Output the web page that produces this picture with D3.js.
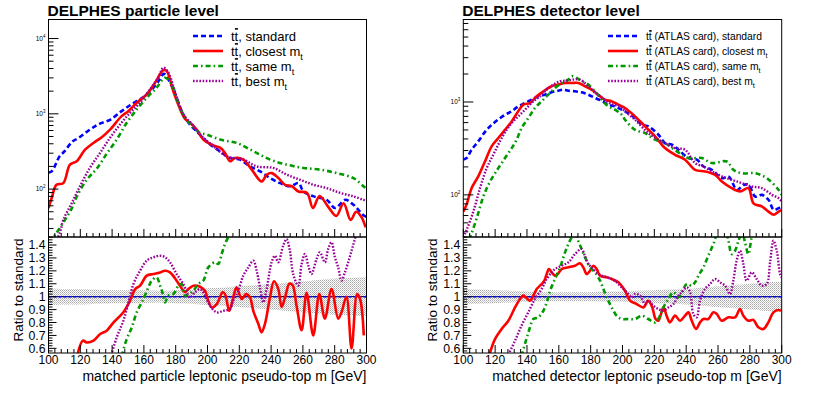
<!DOCTYPE html>
<html><head><meta charset="utf-8">
<script src="https://cdn.jsdelivr.net/npm/d3@7"></script>
<style>body{margin:0;background:#fff}svg{display:block;font-family:"Liberation Sans",Arial,Helvetica,sans-serif}</style>
</head><body><svg id="c" width="830" height="397"></svg>
<script>
// ---------------- DATA ----------------
const xTicks = [100,120,140,160,180,200,220,240,260,280,300];
const ratioTicks = [0.6,0.7,0.8,0.9,1,1.1,1.2,1.3,1.4];
const seriesKeys = ["standard","closest","same","best"];
const titles = ["DELPHES particle level","DELPHES detector level"];
const xTitles = ["matched particle leptonic pseudo-top m [GeV]","matched detector leptonic pseudo-top m [GeV]"];
const legendPrefix = ["", " (ATLAS card)"];
const legendSuffix = [", standard", ", closest m", ", same m", ", best m"];
const legendSub = ["", "t", "t", "t"];

// particle level, top panel (x in GeV, entries)
const pStd = [[100,166],[102,172],[107,273],[110,316],[115,427],[119,479],[126,617],[132,736],[139,840],[146,1084],[152,1330],[159,1633],[165,2109],[170,2871],[172.5,3400],[174,3200],[177.5,2344],[180.6,1633],[184.8,977],[189,719],[195.3,530],[200.5,410],[207.9,318],[214.2,259],[220.5,246],[226.8,200],[233.1,172],[239.4,140],[245.7,120],[252,109],[257.2,120],[260.4,93],[266.7,80],[275,72],[280.3,56],[286.6,72],[291.8,62],[298.1,45],[300,43]];
const pClosest = [[100,56],[102,76],[105,114],[109.3,120],[113.5,211],[117.7,234],[123,334],[128.2,410],[133.5,489],[138.7,617],[146,931],[150.2,1084],[155.5,1403],[161.8,1811],[167,2588],[172.2,3784],[174.3,3707],[178.5,1995],[183.8,1030],[186,851],[189,759],[193.2,618],[197.4,455],[203.7,380],[208,355],[211,302],[214.2,234],[217.3,259],[222.6,246],[227.8,181],[234.1,126],[237.2,155],[240.4,163],[244.6,140],[248.8,114],[253,109],[257.2,93],[262.6,89],[266.3,56],[270.5,81],[275.7,59],[281,44],[285.6,65],[290,39],[293.5,50],[296.7,43],[299.5,31]];
const pSame = [[100,20],[103,23],[109.3,36],[114.7,56],[117.7,79],[124,133],[130.3,186],[136.6,295],[142.9,455],[149.2,759],[155.5,1143],[161.8,1633],[168,2223],[173.3,3020],[177.5,2460],[180.6,1585],[184.8,977],[189,741],[195.3,558],[199.5,530],[207.9,455],[218.4,410],[228.9,318],[239.4,246],[249.9,211],[260.4,191],[270.9,181],[281.4,163],[291.8,140],[298.1,109],[300,100]];
const pBest = [[100,14],[105,21],[107.5,28],[109.3,39],[114.6,65],[119.8,109],[126,191],[132.4,302],[138.7,479],[145,721],[151.3,1030],[157.5,1403],[163.8,2109],[169.1,3020],[172.2,4102],[175.4,3524],[178.5,2339],[181,1585],[185,955],[190,741],[195.3,530],[203.7,371],[212.1,273],[222.6,246],[231,200],[241.4,191],[249.9,155],[258.3,133],[266.7,114],[275,103],[283.4,89],[291.8,80],[298.1,72],[300,71]];

// particle level, ratio panel
const pClosestR = [[118,0.54],[121.6,0.66],[124,0.646],[128.3,0.66],[132.5,0.711],[136.6,0.737],[140.8,0.80],[147.1,0.879],[151.3,0.969],[154.5,1.059],[157.6,1.085],[161.8,1.163],[166,1.175],[170.2,1.188],[173.3,1.201],[176.4,1.188],[180.6,1.124],[184.8,1.046],[185.9,1.034],[188,1.059],[191.1,1.085],[195.3,1.077],[198.4,1.046],[200.5,0.969],[202.6,0.917],[205.8,0.943],[209.5,1.034],[211,1.02],[213.7,0.89],[216.2,0.995],[218.3,1.072],[221.5,0.982],[224.2,1.02],[226.7,0.995],[228.8,0.89],[232,0.788],[234,0.724],[236.1,0.788],[239.3,0.995],[241.8,1.12],[244.5,1.06],[246.6,0.92],[248.7,0.99],[251.5,1.1],[253.5,1.09],[256,0.93],[259.2,0.74],[262.3,1.03],[266.5,0.70],[270.3,1.02],[273.8,0.83],[278,1.06],[282.2,0.83],[284.3,0.88],[287.4,1.0],[290.6,0.6],[294.1,1.02],[296,0.98],[298.3,0.7]];
const pSameR = [[146,0.54],[149.2,0.672],[152.4,0.763],[155.5,0.879],[159.7,0.982],[162.8,1.072],[164.9,1.124],[168,1.15],[170.2,1.085],[171.6,1.034],[173.3,0.956],[175.4,1.008],[178.5,1.02],[181.7,1.085],[183.8,1.098],[185.9,1.008],[188,1.02],[191.1,1.046],[194.2,1.098],[197.4,1.124],[200.5,1.227],[204.7,1.266],[206.8,1.253],[208.9,1.33],[211,1.408],[213,1.46],[215,1.52]];
const pBestR = [[139.5,0.55],[142.9,0.685],[147.1,0.814],[150.3,0.956],[153.4,1.098],[157.6,1.201],[161.8,1.279],[166,1.305],[170.2,1.317],[173.3,1.305],[176.4,1.266],[180.6,1.175],[184.8,1.098],[189,0.995],[192.1,1.034],[195.3,1.059],[198.4,1.008],[201.6,0.93],[205.8,0.879],[210,0.891],[214.1,0.905],[216.2,0.969],[219.4,1.046],[222.5,1.163],[225.7,1.227],[228.8,1.279],[230.9,1.201],[233,1.072],[235.1,0.956],[237.2,1.059],[240.3,1.266],[242.4,1.317],[244.5,1.266],[247.6,1.395],[249.7,1.446],[251.8,1.356],[253.9,1.175],[257.1,1.085],[259.2,1.253],[261.3,1.33],[263.4,1.24],[265.4,1.175],[268.6,1.292],[270.7,1.343],[273.8,1.266],[275.9,1.369],[278,1.421],[280.1,1.305],[282.2,1.227],[284.3,1.124],[286.4,1.188],[288.5,1.266],[290.6,1.356],[292.7,1.446],[295,1.55],[298,1.6],[300,1.6]];
const pBandX = [100,110,120,130,140,150,160,170,180,190,200,210,220,230,240,250,260,270,280,290,300];
const pBandHalf = [0.065,0.06,0.06,0.055,0.05,0.05,0.05,0.045,0.05,0.055,0.065,0.07,0.08,0.09,0.10,0.11,0.12,0.13,0.14,0.145,0.15];

// detector level, top panel
const dStd = [[100,240],[102.1,249],[105.2,306],[109.4,377],[114.7,502],[119.9,608],[126.2,729],[130.4,793],[134.5,897],[138.7,975],[142.9,1059],[147.1,1151],[151.3,1199],[155.5,1271],[159.7,1324],[162.8,1358],[166,1324],[170.1,1303],[174.3,1271],[178.5,1199],[182.7,1104],[186.9,1033],[191.1,935],[195.3,897],[199.5,826],[201.6,793],[207.9,671],[212.1,569],[216.3,546],[222.6,444],[226.7,361],[231,347],[235.2,306],[241.4,249],[246.7,239],[250.9,202],[256.1,186],[262.4,151],[266.6,158],[271.9,113],[276.1,128],[279.2,128],[283.4,96],[287.6,100],[291.8,88],[295,69],[298.1,72],[300,74]];
const dClosest = [[100,66],[102.1,79],[105.2,118],[109.4,158],[113.6,229],[117.8,333],[122,409],[126.2,502],[130.4,618],[134.5,793],[137.7,935],[141.9,975],[146.1,1151],[150.3,1303],[155.5,1476],[159.7,1538],[163.9,1603],[168.1,1603],[172.3,1603],[176.5,1476],[180.6,1358],[184.8,1199],[189,1059],[193.2,1016],[197.4,935],[201.6,861],[207.9,700],[214.2,546],[220.5,426],[226.7,319],[233,270],[239.3,239],[245.6,186],[251.9,179],[258.2,164],[262.4,139],[268.6,118],[273.9,109],[279.1,118],[282.3,81],[287.5,75],[291.7,66],[294.9,61],[298.1,66],[300,69]];
const dSame = [[100,25],[104.2,35],[108.4,56],[112.6,96],[116.8,139],[122,194],[126.2,249],[130.4,319],[133.5,393],[136.6,524],[140.8,671],[145,861],[149.2,1016],[153.4,1199],[157.6,1416],[161.8,1603],[166,1742],[168.1,1892],[171.2,1816],[174.3,1671],[178.5,1538],[182.7,1303],[186.9,1059],[191.1,897],[195.3,826],[199.5,729],[201.6,644],[207.9,502],[214.2,462],[220.5,393],[226.7,361],[234.1,294],[241.4,249],[249.8,249],[256.1,220],[265.5,229],[269.7,186],[275,171],[283.4,171],[290.7,151],[298.1,113],[300,100]];
const dBest = [[100,35],[102.1,42],[106.3,66],[110.5,118],[114.7,194],[118.8,270],[123,377],[127.2,502],[131.4,618],[135.6,729],[139.8,861],[144,1016],[148.2,1151],[152.3,1358],[156.5,1538],[160.7,1671],[164.9,1698],[169.1,1742],[173.3,1742],[177.5,1538],[181.7,1303],[185.9,1151],[190,1016],[194.2,935],[198.4,897],[201.6,793],[207.9,644],[216.3,462],[224.6,377],[233,319],[239.3,306],[245.6,220],[250.9,202],[256.1,179],[262.4,158],[268.7,145],[275,134],[281.3,123],[287.6,118],[293.9,100],[298.1,92],[300,85]];

// detector level, ratio panel
const dClosestR = [[116.1,0.54],[119.9,0.672],[124.1,0.75],[128.3,0.814],[132.5,0.917],[135.6,0.982],[137.7,1.008],[139.4,0.995],[141.9,0.969],[144,1.008],[146.1,1.059],[149.2,1.098],[150.9,1.124],[152.4,1.175],[153.8,1.214],[155.5,1.188],[157.6,1.163],[159.3,1.175],[161.8,1.214],[166,1.227],[170.2,1.24],[173.3,1.258],[175.4,1.227],[177.5,1.175],[179.6,1.201],[181.7,1.24],[183.8,1.214],[185.9,1.163],[190.1,1.15],[193.2,1.137],[197.4,1.111],[201.6,1.046],[204.7,0.969],[208.9,0.943],[213.1,0.917],[216.2,0.969],[218.7,0.917],[220.8,0.827],[222.5,0.814],[225.7,0.917],[227.7,0.853],[229.8,0.801],[233,0.853],[236.1,0.814],[239.3,0.853],[241.4,0.879],[243.5,0.814],[246.2,0.75],[248.7,0.801],[250.8,0.827],[253.9,0.827],[257.1,0.879],[259.2,0.866],[262.3,0.814],[266.5,0.84],[270.7,0.84],[273.8,0.905],[275.9,0.853],[279.1,0.814],[282.2,0.82],[285.3,0.763],[288.5,0.75],[291.6,0.801],[294.8,0.879],[297.9,0.897],[299.6,0.89]];
const dSameR = [[136.6,0.54],[141.9,0.763],[144,0.827],[147.1,0.84],[150.3,0.891],[152.4,0.956],[154.5,1.046],[157.6,1.137],[160.8,1.227],[163.9,1.343],[166,1.408],[168.1,1.46],[170,1.5],[172.2,1.43],[174.3,1.369],[176.4,1.305],[178.5,1.253],[180.6,1.214],[182.7,1.188],[185.9,1.124],[188,1.059],[190.1,0.995],[193.2,0.917],[196.3,0.853],[199.5,0.827],[203.7,0.827],[207.9,0.827],[212.1,0.853],[216.2,0.827],[220.4,0.801],[223.6,0.853],[225.7,0.917],[228.8,0.982],[232,1.034],[235.1,0.995],[237.2,1.034],[240.4,1.098],[243.5,1.085],[245.6,1.111],[247.7,1.163],[250.8,1.227],[253.9,1.317],[257.1,1.408],[260,1.5],[264,1.55],[266.6,1.43],[268.6,1.33],[270.7,1.356],[272.8,1.43],[275,1.5],[277,1.42],[279,1.33],[281,1.45],[284,1.6],[290,1.6],[295,1.55],[300,1.6]];
const dBestR = [[128.3,0.55],[132.5,0.66],[136.6,0.776],[140.8,0.879],[145,0.982],[149.2,1.059],[152.4,1.137],[155.5,1.188],[157.6,1.214],[161.8,1.24],[166,1.266],[170.2,1.33],[174.3,1.369],[176.4,1.317],[178.5,1.253],[180.6,1.227],[183.8,1.188],[186.9,1.163],[190.1,1.15],[193.2,1.137],[196.3,1.111],[199.5,1.072],[202.6,1.034],[205.8,0.995],[207.9,1.02],[211,1.008],[214.1,0.943],[216.2,0.969],[219.4,0.93],[222.5,0.905],[225.7,0.891],[228.8,0.917],[232,0.943],[235.1,1.008],[237.2,1.034],[240.4,1.072],[242.5,1.034],[244.5,0.866],[246.6,0.84],[248.7,0.969],[251.8,1.059],[255,1.098],[258.1,1.137],[261.3,1.111],[264.4,1.085],[267.5,1.02],[269.6,1.124],[271.7,1.279],[273.8,1.356],[275.9,1.253],[278,1.124],[281.2,1.188],[284.3,1.137],[287.4,1.085],[290.6,1.098],[292.7,1.266],[294.8,1.434],[296.9,1.356],[299,1.175],[300,1.15]];
const dBandX = [100,110,120,130,140,150,160,170,180,190,200,210,220,230,240,250,260,270,280,290,300];
const dBandHalf = [0.06,0.055,0.05,0.045,0.04,0.035,0.035,0.035,0.035,0.04,0.04,0.045,0.05,0.055,0.06,0.07,0.08,0.09,0.10,0.11,0.115];

// ---------------- DRAWING ----------------
const svg = d3.select("#c");
const defs = svg.append("defs");
const pat = defs.append("pattern").attr("id","dots").attr("patternUnits","userSpaceOnUse").attr("width",2).attr("height",2);
pat.append("rect").attr("x",0).attr("y",0).attr("width",1).attr("height",1).attr("fill","#a8a8a8");
pat.append("rect").attr("x",1).attr("y",1).attr("width",1).attr("height",1).attr("fill","#c8c8c8");

const yTop = 19.5, yMid = 237, yBot = 353;
const styles = [
  {c:"#0000ff", d:"5,3", w:2.6},
  {c:"#ff0000", d:null, w:2.6},
  {c:"#009900", d:"5,3,1.6,3", w:2.6},
  {c:"#990099", d:"1.6,1.6", w:2.4}
];

function panel(o){
  const x = d3.scaleLinear().domain([100,300]).range([o.x0,o.x1]);
  const y = d3.scaleLog().domain(o.logDomain).range([yMid,yTop]);
  const yr = d3.scaleLinear().domain([0.564,1.462]).range([yBot,yMid]);
  const g = svg.append("g");
  defs.append("clipPath").attr("id","ct"+o.id).append("rect")
    .attr("x",o.x0).attr("y",yTop).attr("width",o.x1-o.x0).attr("height",yMid-yTop);
  defs.append("clipPath").attr("id","cr"+o.id).append("rect")
    .attr("x",o.x0).attr("y",yMid).attr("width",o.x1-o.x0).attr("height",yBot-yMid);

  // title
  g.append("text").attr("x",o.x0-1).attr("y",15.5).attr("font-weight","bold")
    .attr("font-size",15.5).text(o.title);

  // top curves
  const lineT = d3.line().x(d=>x(d[0])).y(d=>y(d[1])).curve(d3.curveCatmullRom.alpha(0.5));
  const gt = g.append("g").attr("clip-path","url(#ct"+o.id+")");
  o.top.forEach((s,i)=>{
    gt.append("path").datum(s).attr("d",lineT).attr("fill","none")
      .attr("stroke",styles[i].c).attr("stroke-width",styles[i].w)
      .attr("stroke-dasharray",styles[i].d).attr("stroke-linejoin","round");
  });

  // ratio panel
  const gr = g.append("g").attr("clip-path","url(#cr"+o.id+")");
  const band = o.bandX.map((v,i)=>[v,o.bandHalf[i]]);
  gr.append("path").datum(band)
    .attr("d", d3.area().x(d=>x(d[0])).y0(d=>yr(1-d[1])).y1(d=>yr(1+d[1])).curve(d3.curveMonotoneX))
    .attr("fill","url(#dots)");
  const one = [[100,1],[300,1]];
  const lineR = d3.line().x(d=>x(d[0])).y(d=>yr(d[1])).curve(d3.curveCatmullRom.alpha(0.5));
  gr.append("path").datum(one).attr("d",lineR).attr("stroke","#000").attr("stroke-width",1).attr("fill","none");
  gr.append("path").datum(one).attr("d",lineR).attr("stroke","#0000ff").attr("stroke-width",1.4)
    .attr("stroke-dasharray","3,2").attr("fill","none");
  o.ratio.forEach((s,k)=>{
    const i = k+1;
    gr.append("path").datum(s).attr("d",lineR).attr("fill","none")
      .attr("stroke",styles[i].c).attr("stroke-width",styles[i].w)
      .attr("stroke-dasharray",styles[i].d).attr("stroke-linejoin","round");
  });

  // frames
  g.append("rect").attr("x",o.x0).attr("y",yTop).attr("width",o.x1-o.x0).attr("height",yMid-yTop)
    .attr("fill","none").attr("stroke","#000").attr("stroke-width",1);
  g.append("rect").attr("x",o.x0).attr("y",yMid).attr("width",o.x1-o.x0).attr("height",yBot-yMid)
    .attr("fill","none").attr("stroke","#000").attr("stroke-width",1);

  // x ticks (both panels)
  const minorX = d3.range(100,300.1,4);
  [yMid, yBot].forEach(yb=>{
    minorX.forEach(v=>{
      const major = xTicks.includes(v);
      g.append("line").attr("x1",x(v)).attr("x2",x(v)).attr("y1",yb).attr("y2",yb-(major?8:4))
        .attr("stroke","#000").attr("stroke-width",1);
    });
  });
  xTicks.forEach(v=>{
    g.append("text").attr("x",x(v)).attr("y",363.5).attr("text-anchor","middle")
      .attr("font-size",12).text(v);
  });
  g.append("text").attr("x",o.x1).attr("y",381).attr("text-anchor","end")
    .attr("font-size",14).text(o.xTitle);

  // log y ticks
  const [lo,hi] = o.logDomain;
  for(let e=1;e<=4;e++){
    for(let m=1;m<=9;m++){
      const v = m*Math.pow(10,e);
      if(v<lo||v>hi) continue;
      g.append("line").attr("x1",o.x0).attr("x2",o.x0+(m===1?10:5)).attr("y1",y(v)).attr("y2",y(v))
        .attr("stroke","#000").attr("stroke-width",1);
      if(m===1){
        const t = g.append("text").attr("x",o.x0-3).attr("y",y(v)+2).attr("text-anchor","end").attr("font-size",6.5);
        t.append("tspan").text("10");
        t.append("tspan").attr("dy",-3).attr("font-size",4.5).text(e);
      }
    }
  }

  // ratio y ticks
  d3.range(0.58,1.461,0.02).forEach(v=>{
    v = Math.round(v*100)/100;
    const major = Math.abs(v*10-Math.round(v*10))<1e-6;
    g.append("line").attr("x1",o.x0).attr("x2",o.x0+(major?8:4)).attr("y1",yr(v)).attr("y2",yr(v))
      .attr("stroke","#000").attr("stroke-width",1);
  });
  ratioTicks.forEach(v=>{
    g.append("text").attr("x",o.x0-3).attr("y",yr(v)+4.3).attr("text-anchor","end")
      .attr("font-size",12.3).text(v===1?"1":v.toFixed(1));
  });
  g.append("text").attr("transform",`translate(${o.x0-26},290) rotate(-90)`).attr("text-anchor","middle")
    .attr("font-size",13.5).text("Ratio to standard");

  // legend
  const ly = [36,51,66,81];
  seriesKeys.forEach((k,i)=>{
    g.append("line").attr("x1",o.lx).attr("x2",o.lx+30).attr("y1",ly[i]).attr("y2",ly[i])
      .attr("stroke",styles[i].c).attr("stroke-width",styles[i].w).attr("stroke-dasharray",styles[i].d);
    const t = g.append("text").attr("x",o.lx+38).attr("y",ly[i]+o.lfs*0.36)
      .attr("font-size",o.lfs);
    t.append("tspan").text("tt" + o.prefix + legendSuffix[i]);
    if(legendSub[i]) t.append("tspan").attr("dy",o.lfs*0.35).attr("font-size",o.lfs*0.7).text(legendSub[i]);
    const node = t.node();
    const ext = node.getExtentOfChar(1);
    g.append("rect").attr("x",ext.x+0.3).attr("y",ext.y-0.6).attr("width",Math.max(ext.width-0.6,2.5)).attr("height",1.6).attr("fill","#000");
  });
}

panel({id:"p", x0:48.5, x1:366.5, logDomain:[23.1,17900], title:titles[0], xTitle:xTitles[0],
  top:[pStd,pClosest,pSame,pBest], ratio:[pClosestR,pSameR,pBestR], bandX:pBandX, bandHalf:pBandHalf,
  lx:193, lfs:13, prefix:legendPrefix[0]});
panel({id:"d", x0:463.3, x1:781.7, logDomain:[35.2,7727], title:titles[1], xTitle:xTitles[1],
  top:[dStd,dClosest,dSame,dBest], ratio:[dClosestR,dSameR,dBestR], bandX:dBandX, bandHalf:dBandHalf,
  lx:608, lfs:10.3, prefix:legendPrefix[1]});
</script></body></html>
